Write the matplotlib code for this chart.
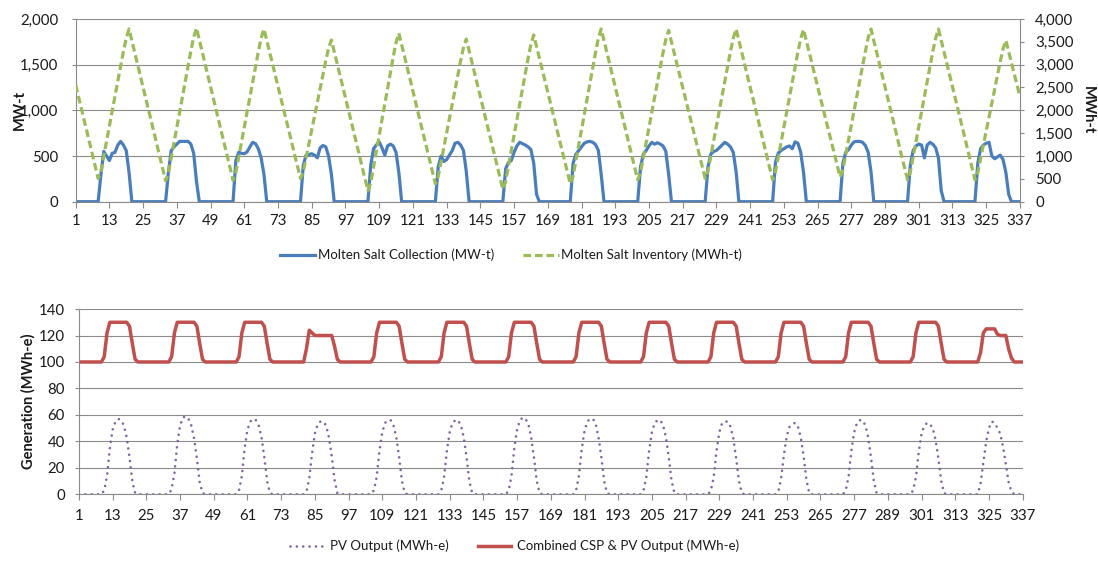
import matplotlib.pyplot as plt
import numpy as np
from matplotlib.ticker import FuncFormatter

# hourly values, hours 1..337 (one row per day)
hours = np.arange(1, 338)

collection_mwt = [
    0, 0, 0, 0, 0, 0, 0, 0, 0, 300, 550, 500, 450, 530, 540, 620, 660, 620, 560, 320, 0, 0, 0, 0,
    0, 0, 0, 0, 0, 0, 0, 0, 0, 320, 560, 600, 630, 660, 660, 660, 660, 630, 530, 220, 0, 0, 0, 0,
    0, 0, 0, 0, 0, 0, 0, 0, 0, 450, 540, 530, 525, 545, 600, 650, 635, 580, 480, 300, 0, 0, 0, 0,
    0, 0, 0, 0, 0, 0, 0, 0, 0, 400, 510, 515, 525, 510, 480, 590, 615, 600, 500, 300, 0, 0, 0, 0,
    0, 0, 0, 0, 0, 0, 0, 0, 0, 400, 580, 620, 655, 590, 510, 610, 630, 610, 540, 320, 0, 0, 0, 0,
    0, 0, 0, 0, 0, 0, 0, 0, 0, 380, 500, 440, 460, 510, 560, 640, 650, 620, 560, 330, 0, 0, 0, 0,
    0, 0, 0, 0, 0, 0, 0, 0, 0, 360, 430, 450, 540, 610, 650, 635, 620, 600, 570, 420, 80, 0, 0, 0,
    0, 0, 0, 0, 0, 0, 0, 0, 0, 420, 520, 560, 600, 640, 655, 660, 650, 625, 560, 300, 0, 0, 0, 0,
    0, 0, 0, 0, 0, 0, 0, 0, 0, 380, 520, 560, 610, 650, 630, 645, 630, 610, 550, 300, 0, 0, 0, 0,
    0, 0, 0, 0, 0, 0, 0, 0, 0, 380, 520, 550, 560, 590, 620, 650, 630, 600, 540, 330, 0, 0, 0, 0,
    0, 0, 0, 0, 0, 0, 0, 0, 0, 430, 530, 560, 580, 600, 610, 580, 655, 640, 540, 320, 0, 0, 0, 0,
    0, 0, 0, 0, 0, 0, 0, 0, 0, 420, 540, 570, 620, 655, 660, 660, 650, 615, 540, 330, 0, 0, 0, 0,
    0, 0, 0, 0, 0, 0, 0, 0, 0, 400, 560, 610, 630, 620, 480, 620, 650, 630, 590, 480, 120, 0, 0, 0,
    0, 0, 0, 0, 0, 0, 0, 0, 0, 420, 580, 620, 640, 650, 500, 470, 490, 510, 460, 320, 80, 0, 0, 0,
    0,
]

inventory_mwht = [
    2560, 2300, 2050, 1790, 1540, 1280, 1020, 770, 510, 670, 1000, 1330, 1660, 1980, 2310, 2640, 2960, 3290, 3580, 3780, 3530, 3270, 3010, 2760,
    2500, 2250, 1990, 1740, 1480, 1230, 970, 720, 460, 630, 960, 1300, 1630, 1960, 2300, 2630, 2970, 3300, 3600, 3800, 3540, 3290, 3030, 2780,
    2520, 2260, 2010, 1750, 1490, 1240, 980, 730, 470, 640, 970, 1300, 1630, 1960, 2290, 2620, 2950, 3280, 3580, 3780, 3530, 3280, 3030, 2770,
    2520, 2270, 2020, 1770, 1520, 1260, 1010, 760, 510, 660, 970, 1270, 1570, 1870, 2180, 2480, 2780, 3090, 3360, 3540, 3290, 3030, 2780, 2530,
    2270, 2020, 1770, 1510, 1260, 1000, 750, 490, 240, 410, 760, 1100, 1450, 1790, 2140, 2480, 2830, 3170, 3480, 3690, 3440, 3180, 2930, 2680,
    2420, 2170, 1910, 1660, 1410, 1150, 900, 640, 390, 550, 870, 1180, 1500, 1820, 2130, 2450, 2770, 3090, 3370, 3560, 3310, 3050, 2800, 2550,
    2300, 2040, 1790, 1540, 1280, 1030, 780, 520, 270, 440, 780, 1120, 1450, 1790, 2130, 2470, 2810, 3140, 3450, 3650, 3400, 3150, 2900, 2650,
    2400, 2150, 1890, 1640, 1390, 1140, 890, 640, 390, 560, 900, 1240, 1580, 1920, 2260, 2590, 2930, 3270, 3580, 3780, 3530, 3270, 3020, 2760,
    2510, 2260, 2000, 1750, 1490, 1240, 980, 730, 480, 640, 970, 1300, 1630, 1950, 2280, 2610, 2930, 3260, 3550, 3750, 3500, 3250, 3000, 2750,
    2500, 2260, 2010, 1760, 1510, 1260, 1010, 760, 510, 670, 1000, 1330, 1660, 1980, 2310, 2640, 2960, 3290, 3580, 3780, 3530, 3270, 3020, 2760,
    2510, 2260, 2000, 1750, 1490, 1240, 980, 730, 480, 650, 970, 1300, 1630, 1960, 2290, 2620, 2950, 3280, 3570, 3770, 3520, 3270, 3020, 2780,
    2530, 2280, 2030, 1780, 1530, 1290, 1040, 790, 540, 700, 1030, 1350, 1670, 2000, 2320, 2650, 2970, 3290, 3590, 3780, 3530, 3270, 3020, 2760,
    2510, 2260, 2000, 1750, 1490, 1240, 980, 730, 480, 650, 980, 1310, 1640, 1970, 2300, 2630, 2960, 3290, 3580, 3780, 3530, 3270, 3020, 2770,
    2510, 2260, 2010, 1750, 1500, 1240, 990, 730, 480, 630, 940, 1240, 1550, 1850, 2160, 2460, 2770, 3070, 3350, 3530, 3280, 3040, 2790, 2550,
    2300,
]

pv_mwhe = [
    0, 0, 0, 0, 0, 0, 0, 0, 0, 3, 14, 35, 49, 55, 57, 56, 52, 43, 28, 10, 1, 0, 0, 0,
    0, 0, 0, 0, 0, 0, 0, 0, 0, 4, 16, 38, 52, 58, 59, 57, 52, 42, 27, 9, 1, 0, 0, 0,
    0, 0, 0, 0, 0, 0, 0, 0, 0, 3, 14, 35, 49, 55, 57, 56, 52, 43, 28, 10, 1, 0, 0, 0,
    0, 0, 0, 0, 0, 0, 0, 0, 0, 2, 12, 31, 46, 53, 55, 55, 52, 43, 29, 11, 1, 0, 0, 0,
    0, 0, 0, 0, 0, 0, 0, 0, 0, 3, 13, 33, 47, 54, 56, 56, 52, 43, 28, 10, 1, 0, 0, 0,
    0, 0, 0, 0, 0, 0, 0, 0, 0, 3, 13, 33, 47, 54, 56, 56, 52, 43, 28, 10, 1, 0, 0, 0,
    0, 0, 0, 0, 0, 0, 0, 0, 0, 3, 14, 35, 49, 56, 58, 57, 53, 43, 28, 10, 1, 0, 0, 0,
    0, 0, 0, 0, 0, 0, 0, 0, 0, 3, 14, 34, 48, 55, 57, 57, 53, 43, 28, 10, 1, 0, 0, 0,
    0, 0, 0, 0, 0, 0, 0, 0, 0, 3, 13, 33, 47, 54, 56, 56, 52, 43, 28, 10, 1, 0, 0, 0,
    0, 0, 0, 0, 0, 0, 0, 0, 0, 3, 13, 33, 47, 54, 55, 55, 51, 42, 27, 10, 1, 0, 0, 0,
    0, 0, 0, 0, 0, 0, 0, 0, 0, 2, 12, 30, 44, 51, 53, 54, 51, 43, 29, 11, 1, 0, 0, 0,
    0, 0, 0, 0, 0, 0, 0, 0, 0, 3, 13, 33, 47, 54, 56, 56, 52, 43, 28, 10, 1, 0, 0, 0,
    0, 0, 0, 0, 0, 0, 0, 0, 0, 3, 13, 32, 46, 52, 54, 53, 50, 41, 27, 10, 1, 0, 0, 0,
    0, 0, 0, 0, 0, 0, 0, 0, 0, 8, 24, 40, 50, 55, 54, 50, 46, 36, 23, 9, 2, 0, 0, 0,
    0,
]

combined_mwhe = [
    100, 100, 100, 100, 100, 100, 100, 100, 100, 104, 122, 130, 130, 130, 130, 130, 130, 130, 127, 114, 102, 100, 100, 100,
    100, 100, 100, 100, 100, 100, 100, 100, 100, 104, 122, 130, 130, 130, 130, 130, 130, 130, 127, 114, 102, 100, 100, 100,
    100, 100, 100, 100, 100, 100, 100, 100, 100, 104, 122, 130, 130, 130, 130, 130, 130, 130, 127, 114, 102, 100, 100, 100,
    100, 100, 100, 100, 100, 100, 100, 100, 100, 110, 124, 122, 120, 120, 120, 120, 120, 120, 120, 112, 102, 100, 100, 100,
    100, 100, 100, 100, 100, 100, 100, 100, 100, 104, 122, 130, 130, 130, 130, 130, 130, 130, 127, 114, 102, 100, 100, 100,
    100, 100, 100, 100, 100, 100, 100, 100, 100, 104, 122, 130, 130, 130, 130, 130, 130, 130, 127, 114, 102, 100, 100, 100,
    100, 100, 100, 100, 100, 100, 100, 100, 100, 104, 122, 130, 130, 130, 130, 130, 130, 130, 127, 114, 102, 100, 100, 100,
    100, 100, 100, 100, 100, 100, 100, 100, 100, 104, 122, 130, 130, 130, 130, 130, 130, 130, 127, 114, 102, 100, 100, 100,
    100, 100, 100, 100, 100, 100, 100, 100, 100, 104, 122, 130, 130, 130, 130, 130, 130, 130, 127, 114, 102, 100, 100, 100,
    100, 100, 100, 100, 100, 100, 100, 100, 100, 104, 122, 130, 130, 130, 130, 130, 130, 130, 127, 114, 102, 100, 100, 100,
    100, 100, 100, 100, 100, 100, 100, 100, 100, 104, 122, 130, 130, 130, 130, 130, 130, 130, 127, 114, 102, 100, 100, 100,
    100, 100, 100, 100, 100, 100, 100, 100, 100, 104, 122, 130, 130, 130, 130, 130, 130, 130, 127, 114, 102, 100, 100, 100,
    100, 100, 100, 100, 100, 100, 100, 100, 100, 104, 122, 130, 130, 130, 130, 130, 130, 130, 127, 114, 102, 100, 100, 100,
    100, 100, 100, 100, 100, 100, 100, 100, 100, 107, 122, 125, 125, 125, 125, 121, 120, 120, 120, 110, 103, 100, 100, 100,
    100,
]

xticks = np.arange(1, 338, 12)

plt.rcParams['font.family'] = ['Lato', 'DejaVu Sans']
grid_c = '#8a8a8a'
text_c = '#1a1a1a'
fs = 10.8

fig = plt.figure(figsize=(10.98, 5.68), dpi=100)
ax1 = fig.add_axes([0.0689, 0.6449, 0.8600, 0.3217])
ax1b = ax1.twinx()
ax2 = fig.add_axes([0.0719, 0.1297, 0.8595, 0.3262])

comma = FuncFormatter(lambda v, p: '{:,}'.format(int(v)))

# top panel
l1, = ax1.plot(hours, collection_mwt, color='#4a7ebb', lw=2.3, solid_joinstyle='round',
               label='Molten Salt Collection (MW-t)')
l2, = ax1b.plot(hours, inventory_mwht, color='#9bbb59', lw=2.3, dashes=(2.4, 1.2),
                label='Molten Salt Inventory (MWh-t)')
ax1.set_ylim(0, 2000)
ax1.set_yticks(np.arange(0, 2001, 500))
ax1b.set_ylim(0, 4000)
ax1b.set_yticks(np.arange(0, 4001, 500))
ax1.yaxis.set_major_formatter(comma)
ax1b.yaxis.set_major_formatter(comma)
ax1.set_ylabel('MW-t', fontsize=10.5, fontweight='bold', color=text_c)
ax1.yaxis.set_label_coords(-0.052, 0.5)
ax1b.set_ylabel('MWh-t', fontsize=10.5, fontweight='bold', color=text_c, rotation=270)
ax1b.yaxis.set_label_coords(1.079, 0.5)

# bottom panel
l3, = ax2.plot(hours, pv_mwhe, color='#8064a2', lw=1.9, linestyle=(0, (0.01, 2.4)),
               dash_capstyle='round', label='PV Output (MWh-e)')
l4, = ax2.plot(hours, combined_mwhe, color='#c0504d', lw=2.5, solid_joinstyle='round',
               label='Combined CSP & PV Output (MWh-e)')
ax2.set_ylim(0, 140)
ax2.set_yticks(np.arange(0, 141, 20))
ax2.set_ylabel('Generation (MWh-e)', fontsize=10.5, fontweight='bold', color=text_c)
ax2.yaxis.set_label_coords(-0.046, 0.5)

for ax in (ax1, ax2):
    ax.set_xlim(1, 337)
    ax.set_xticks(xticks)
    ax.set_axisbelow(True)
    ax.yaxis.grid(True, color=grid_c, lw=0.8)
    ax.spines['top'].set_visible(False)
    ax.spines['right'].set_visible(False)
    ax.spines['left'].set_color(grid_c)
    ax.spines['bottom'].set_color(grid_c)
    ax.spines['left'].set_linewidth(0.8)
    ax.spines['bottom'].set_linewidth(0.8)
    ax.tick_params(axis='y', length=3, width=0.8, color=grid_c, labelsize=fs,
                   labelcolor=text_c)

ax1.tick_params(axis='x', length=4, width=0.8, color=grid_c, labelsize=fs,
                labelcolor=text_c, pad=5)
ax2.tick_params(axis='x', length=4, width=0.8, color=grid_c, labelsize=fs,
                labelcolor=text_c, pad=6.5)
ax1.tick_params(axis='y', pad=9.5)
ax2.tick_params(axis='y', pad=7)
for s in ('top', 'left', 'bottom'):
    ax1b.spines[s].set_visible(False)
ax1b.spines['right'].set_color(grid_c)
ax1b.spines['right'].set_linewidth(0.8)
ax1b.tick_params(axis='y', length=3, width=0.8, color=grid_c, labelsize=fs,
                 labelcolor=text_c, pad=8)

fig.legend(handles=[l1, l2], loc='center', bbox_to_anchor=(511 / 1098, 1 - 255 / 568),
           ncol=2, frameon=False, fontsize=9.5, handlelength=2.7, handletextpad=0.2,
           columnspacing=2.2, labelcolor=text_c)
fig.legend(handles=[l3, l4], loc='center', bbox_to_anchor=(515 / 1098, 1 - 546 / 568),
           ncol=2, frameon=False, fontsize=9.5, handlelength=2.5, handletextpad=0.5,
           columnspacing=2.2, labelcolor=text_c)

fig.savefig('out.png', dpi=100)
